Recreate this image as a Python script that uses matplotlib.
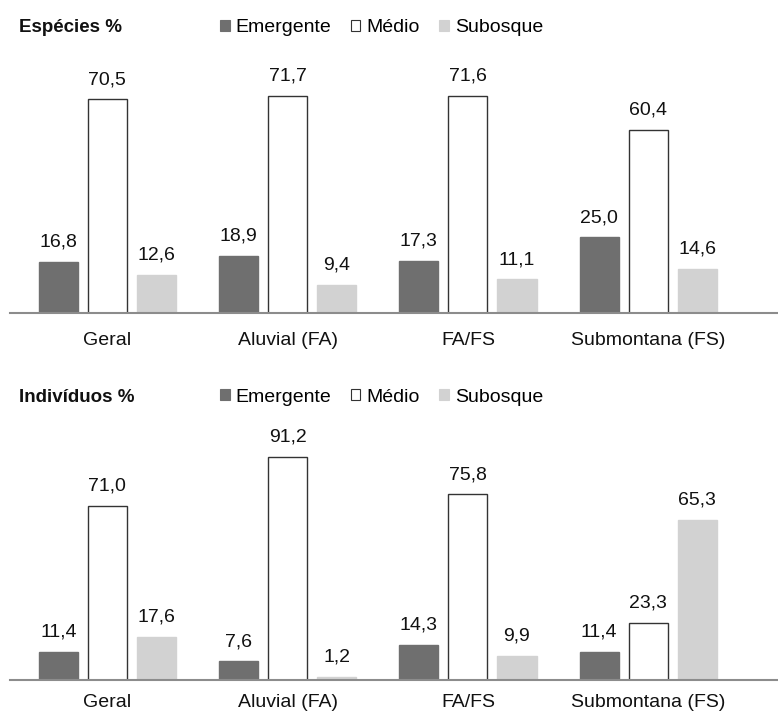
import matplotlib.pyplot as plt
import numpy as np
from matplotlib.patches import Patch

plt.rcParams['font.family'] = ['Liberation Sans', 'DejaVu Sans']

categories = ["Geral", "Aluvial (FA)", "FA/FS", "Submontana (FS)"]
series = ["Emergente", "Médio", "Subosque"]

especies = {
    "Emergente": [16.8, 18.9, 17.3, 25.0],
    "Médio": [70.5, 71.7, 71.6, 60.4],
    "Subosque": [12.6, 9.4, 11.1, 14.6],
}
individuos = {
    "Emergente": [11.4, 7.6, 14.3, 11.4],
    "Médio": [71.0, 91.2, 75.8, 23.3],
    "Subosque": [17.6, 1.2, 9.9, 65.3],
}

face = {"Emergente": "#6f6f6f", "Médio": "white", "Subosque": "#d2d2d2"}
edge = {"Emergente": "#6f6f6f", "Médio": "#333333", "Subosque": "#d2d2d2"}

W, H = 778, 716
fig = plt.figure(figsize=(W / 100, H / 100), dpi=100)

x = np.arange(len(categories))
width = 0.217
offsets = [-0.272, 0, 0.272]
FS = 14


def panel(rect, data, ymax, title, title_y, pad):
    ax = fig.add_axes(rect)
    for off, s in zip(offsets, series):
        bars = ax.bar(x + off, data[s], width, color=face[s], edgecolor=edge[s],
                      linewidth=1.0)
        for b, v in zip(bars, data[s]):
            ax.annotate(f"{v:.1f}".replace(".", ","),
                        (b.get_x() + b.get_width() / 2, v),
                        xytext=(0, 8), textcoords="offset points",
                        ha="center", va="bottom", fontsize=FS, color="#111111")
    ax.set_xlim(-0.54, 3.72)
    ax.set_ylim(0, ymax)
    for sp in ["top", "right", "left"]:
        ax.spines[sp].set_visible(False)
    ax.spines["bottom"].set_color("#8c8c8c")
    ax.spines["bottom"].set_linewidth(1.5)
    ax.set_yticks([])
    ax.set_xticks(x)
    ax.set_xticklabels(categories, fontsize=FS, color="#111111")
    ax.tick_params(axis="x", length=0, pad=pad)
    fig.text(19 / W, 1 - title_y / H, title, fontsize=13.5, fontweight="bold",
             ha="left", va="center", color="#111111")
    handles = [Patch(facecolor=face[s], edgecolor=edge[s], linewidth=0.8) for s in series]
    fig.legend(handles, series, loc="center left",
               bbox_to_anchor=(220 / W, 1 - title_y / H), ncol=3, frameon=False,
               fontsize=FS, handlelength=0.5, handleheight=0.5,
               handletextpad=0.3, columnspacing=1.0, borderpad=0, borderaxespad=0)
    return ax


left = 10 / W
axw = (W - 10) / W

# top panel: baseline at y=313 px, 3.03 px per unit
top_h = 80 * 3.03
panel([left, (H - 313) / H, axw, top_h / H], especies, 80, "Espécies %", 28, 14)

# bottom panel: baseline at y=680 px, 2.45 px per unit
bot_h = 100 * 2.45
panel([left, (H - 680) / H, axw, bot_h / H], individuos, 100, "Indivíduos %", 397, 10)

fig.savefig("out.png", dpi=100)
